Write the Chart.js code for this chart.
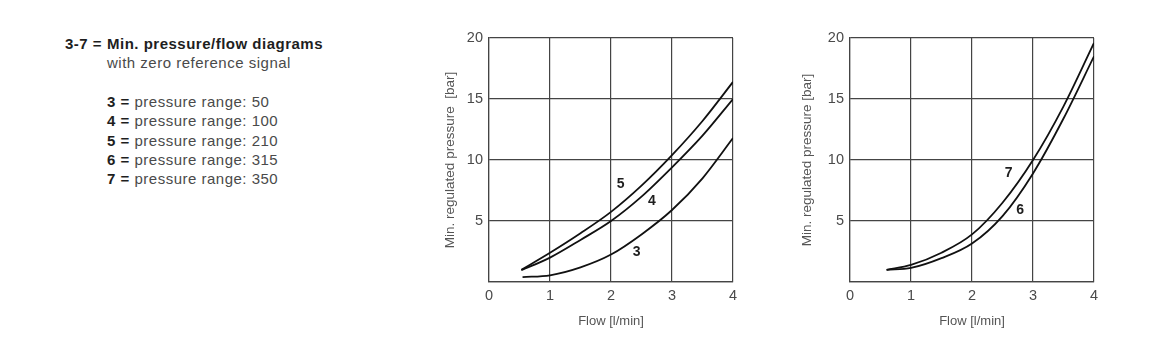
<!DOCTYPE html>
<html><head><meta charset="utf-8">
<script src="https://cdn.jsdelivr.net/npm/chart.js@4.4.1/dist/chart.umd.min.js"></script>
<style>
html,body{margin:0;padding:0;background:#fff;}
body{width:1176px;height:357px;position:relative;overflow:hidden;font-family:"Liberation Sans",Arial,sans-serif;}
.t{position:absolute;font-size:15px;line-height:19.3px;letter-spacing:0.5px;color:#4a4a4a;white-space:nowrap;}
.t b{color:#1e1e1e;}
#c1{position:absolute;left:430px;top:0;}
#c2{position:absolute;left:790px;top:0;}
</style></head>
<body>
<div class="t" style="left:65px;top:34px"><b>3-7 =</b></div>
<div class="t" style="left:107px;top:34px"><b>Min. pressure/flow diagrams</b><br>with zero reference signal</div>
<div class="t" id="legend" style="left:107px;top:92px"></div>
<canvas id="c1" width="315" height="345"></canvas>
<canvas id="c2" width="316" height="345"></canvas>
<script>
// ---- data ----
const curveIds = ['3', '4', '5', '6', '7'];
const pressureRanges = [50, 100, 210, 315, 350];

const xTicks = [0, 1, 2, 3, 4];
const yTicks = [0, 5, 10, 15, 20];

// left diagram
const flow3 = [0.55, 1, 1.5, 2, 2.5, 3, 3.5, 4];
const pres3 = [0.4, 0.55, 1.2, 2.25, 3.9, 5.9, 8.5, 11.8];
const flow4 = [0.53, 1, 1.5, 2, 2.5, 3, 3.5, 4];
const pres4 = [0.96, 2.0, 3.45, 5.0, 7.0, 9.4, 12.0, 15.0];
const flow5 = [0.53, 1, 1.5, 2, 2.5, 3, 3.5, 4];
const pres5 = [1.0, 2.4, 4.0, 5.75, 7.9, 10.4, 13.2, 16.4];
// right diagram
const flow6 = [0.6, 1, 1.5, 2, 2.5, 3, 3.5, 4];
const pres6 = [1.0, 1.15, 1.95, 3.15, 5.4, 8.9, 13.4, 18.5];
const flow7 = [0.6, 1, 1.5, 2, 2.5, 3, 3.5, 4];
const pres7 = [1.0, 1.4, 2.4, 3.9, 6.5, 10.0, 14.4, 19.6];

// curve number labels (data coordinates)
const labelsLeft = [['5', 2.16, 8.0], ['4', 2.67, 6.66], ['3', 2.42, 2.47]];
const labelsRight = [['7', 2.60, 8.96], ['6', 2.79, 5.89]];

// ---- legend text ----
document.getElementById('legend').innerHTML = curveIds.map((id, i) =>
  '<b>' + id + ' =</b> pressure range: ' + pressureRanges[i]).join('<br>');

const FAM = '"Liberation Sans", Arial, sans-serif';
const pts = (xs, ys) => xs.map((x, i) => ({x: x, y: ys[i]}));

const curveLabels = {
  id: 'curveLabels',
  afterDatasetsDraw(chart, args, o) {
    const {ctx, scales: {x, y}} = chart;
    ctx.save();
    ctx.font = 'bold 14px ' + FAM;
    ctx.fillStyle = '#1e1e1e';
    ctx.textAlign = 'center';
    ctx.textBaseline = 'middle';
    (o.items || []).forEach(([t, vx, vy]) => ctx.fillText(t, x.getPixelForValue(vx), y.getPixelForValue(vy)));
    ctx.restore();
  }
};

function makeChart(id, series, labels, yWidth, yTitle, yTitlePad) {
  return new Chart(document.getElementById(id), {
    type: 'scatter',
    data: {datasets: series.map(([xs, ys]) => ({data: pts(xs, ys), showLine: true}))},
    plugins: [curveLabels],
    options: {
      responsive: false, animation: false, devicePixelRatio: 1,
      layout: {padding: {top: 38, right: 12, left: 0, bottom: 0}},
      plugins: {legend: {display: false}, tooltip: {enabled: false}, curveLabels: {items: labels}},
      elements: {
        point: {radius: 0},
        line: {borderWidth: 1.8, borderColor: '#111', cubicInterpolationMode: 'monotone', fill: false}
      },
      scales: {
        x: {
          type: 'linear', min: xTicks[0], max: xTicks[xTicks.length - 1],
          afterBuildTicks: s => { s.ticks = xTicks.map(v => ({value: v})); },
          ticks: {color: '#4a4a4a', font: {size: 14.5, family: FAM}, padding: 5},
          grid: {color: '#444', lineWidth: 1.2, drawTicks: false},
          border: {color: '#444', width: 1.2},
          title: {display: true, text: 'Flow [l/min]', color: '#555', font: {size: 13, family: FAM}, padding: {top: 0, bottom: 16}},
          afterFit: s => { s.height = 63; }
        },
        y: {
          type: 'linear', min: yTicks[0], max: yTicks[yTicks.length - 1],
          afterBuildTicks: s => { s.ticks = yTicks.map(v => ({value: v})); },
          ticks: {color: '#4a4a4a', font: {size: 14.5, family: FAM}, padding: 6, callback: v => v === 0 ? '' : v},
          grid: {color: '#444', lineWidth: 1.2, drawTicks: false},
          border: {color: '#444', width: 1.2},
          title: {display: true, text: yTitle, color: '#555', font: {size: 13.5, family: FAM}, padding: {top: yTitlePad, bottom: 0}},
          afterFit: s => { s.width = yWidth; }
        }
      }
    }
  });
}

makeChart('c1', [[flow5, pres5], [flow4, pres4], [flow3, pres3]], labelsLeft, 59, 'Min. regulated pressure  [bar]', 12);
makeChart('c2', [[flow7, pres7], [flow6, pres6]], labelsRight, 60, 'Min. regulated pressure [bar]', 9);
</script>
</body></html>
